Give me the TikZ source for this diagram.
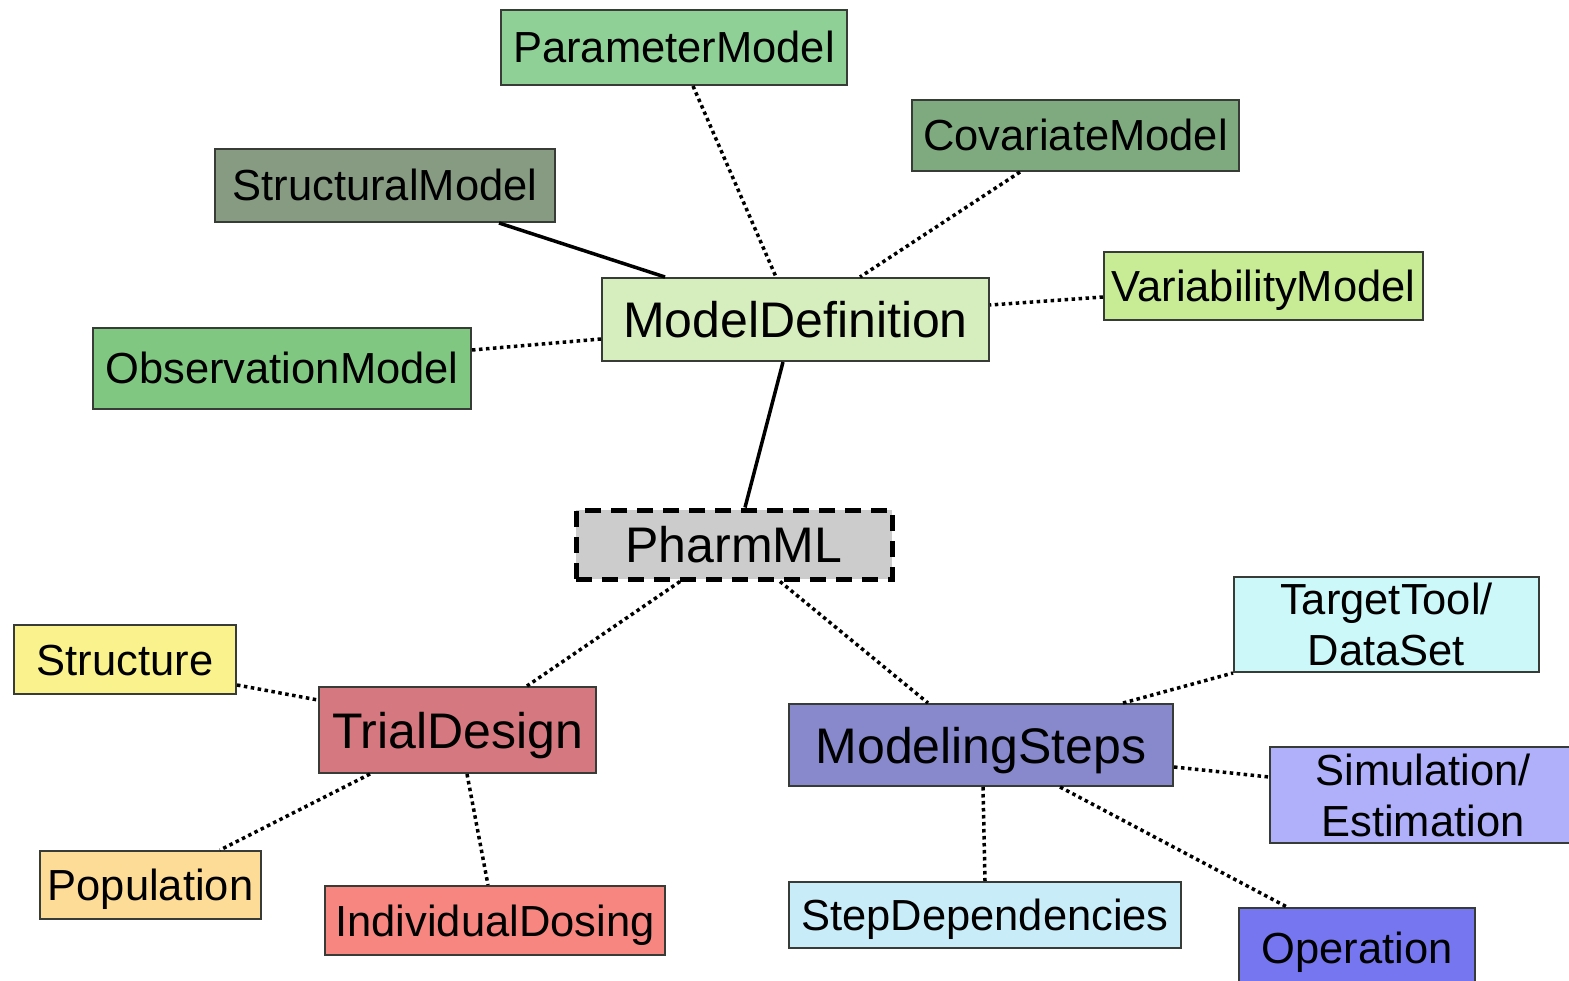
\documentclass[tikz,border=0pt]{standalone}
\usepackage{fontspec}
\setmainfont{Liberation Sans}
\usetikzlibrary{calc}

\definecolor{boxline}{RGB}{55,60,55}
\definecolor{cPar}{RGB}{142,208,150}
\definecolor{cCov}{RGB}{127,170,127}
\definecolor{cStr}{RGB}{134,155,130}
\definecolor{cVar}{RGB}{200,236,150}
\definecolor{cMdef}{RGB}{214,238,190}
\definecolor{cObs}{RGB}{128,200,130}
\definecolor{cPh}{RGB}{204,204,204}
\definecolor{cStrc}{RGB}{250,242,140}
\definecolor{cTrial}{RGB}{214,120,128}
\definecolor{cPop}{RGB}{252,220,150}
\definecolor{cInd}{RGB}{248,134,128}
\definecolor{cTT}{RGB}{204,248,250}
\definecolor{cMS}{RGB}{136,136,204}
\definecolor{cSim}{RGB}{176,176,250}
\definecolor{cSD}{RGB}{200,236,248}
\definecolor{cOp}{RGB}{118,118,240}

\begin{document}
\begin{tikzpicture}[x=1pt,y=-1pt,
  frame/.style={draw=boxline, line width=2pt, inner sep=0pt},
  box/.style={frame, font=\fontsize{43.5}{49}\selectfont, text height=31pt, text depth=0pt},
  bigbox/.style={box, font=\fontsize{50}{56}\selectfont, text height=36pt},
  twoline/.style={frame, align=center, font=\fontsize{43.5}{51}\selectfont},
  rootbox/.style={draw=black, line width=5pt, dash pattern=on 16pt off 10pt,
    inner sep=0pt, font=\fontsize{50}{56}\selectfont, text height=36pt, text depth=0pt},
  dotl/.style={line width=3.5pt, dash pattern=on 3.5pt off 3.5pt},
  solidl/.style={line width=3.5pt},
]
\useasboundingbox (0,0) rectangle (1569,981);
\fill[white] (0,0) rectangle (1569,981);

% model definition branch
\node[box, fill=cPar, minimum width=346pt, minimum height=75pt] (par) at (674,47.5) {ParameterModel};
\node[box, fill=cCov, minimum width=327pt, minimum height=71pt] (cov) at (1075.5,135.5) {CovariateModel};
\node[box, fill=cStr, minimum width=340pt, minimum height=73pt] (str) at (385,185.5) {StructuralModel};
\node[box, fill=cVar, minimum width=319pt, minimum height=68pt] (var) at (1263.5,286) {VariabilityModel};
\node[bigbox, fill=cMdef, minimum width=387pt, minimum height=83pt] (mdef) at (795.5,319.5) {ModelDefinition};
\node[box, fill=cObs, minimum width=378pt, minimum height=81pt] (obs) at (282,368.5) {ObservationModel};

% root
\node[rootbox, fill=cPh, minimum width=316pt, minimum height=69pt] (ph) at (734,544.5) {PharmML};

% trial design branch
\node[box, fill=cStrc, minimum width=222pt, minimum height=69pt] (strc) at (125,659.5) {Structure};
\node[bigbox, fill=cTrial, minimum width=277pt, minimum height=86pt] (trial) at (457.5,730) {TrialDesign};
\node[box, fill=cPop, minimum width=221pt, minimum height=68pt] (pop) at (150.5,885) {Population};
\node[box, fill=cInd, minimum width=340pt, minimum height=69pt] (ind) at (495,920.5) {IndividualDosing};

% modeling steps branch
\node[twoline, fill=cTT, minimum width=305pt, minimum height=95pt] (tt) at (1386.5,624.5) {TargetTool/\\DataSet};
\node[bigbox, fill=cMS, minimum width=384pt, minimum height=82pt] (ms) at (981,745) {ModelingSteps};
\node[twoline, fill=cSim, minimum width=306pt, minimum height=96pt] (sim) at (1423,795) {Simulation/\\Estimation};
\node[box, fill=cSD, minimum width=392pt, minimum height=66pt] (sd) at (985,915) {StepDependencies};
\node[box, fill=cOp, minimum width=236pt, minimum height=80pt] (op) at (1357,948) {Operation};

% connectors
\draw[solidl] ($(str.south)+(114,0)$) -- ($(mdef.north)+(-130.5,0)$);
\draw[dotl] ($(par.south)+(19,0)$) -- ($(mdef.north)+(-19.5,0)$);
\draw[dotl] ($(cov.south)+(-55.5,0)$) -- ($(mdef.north)+(64.5,0)$);
\draw[dotl] ($(var.west)+(0,11)$) -- ($(mdef.east)+(0,-14.5)$);
\draw[dotl] ($(obs.east)+(0,-18.5)$) -- ($(mdef.west)+(0,19.5)$);
\draw[solidl] ($(mdef.south)+(-12.5,0)$) -- ($(ph.north)+(11,0)$);
\draw[dotl] ($(ph.south)+(-54,0)$) -- ($(trial.north)+(69.5,0)$);
\draw[dotl] ($(ph.south)+(46,0)$) -- ($(ms.north)+(-53,0)$);
\draw[dotl] ($(strc.east)+(0,25.5)$) -- ($(trial.west)+(0,-30)$);
\draw[dotl] ($(trial.south)+(-87.5,0)$) -- ($(pop.north)+(69.5,0)$);
\draw[dotl] ($(trial.south)+(9.5,0)$) -- ($(ind.north)+(-7,0)$);
\draw[dotl] ($(ms.north)+(142,0)$) -- (tt.south west);
\draw[dotl] ($(ms.east)+(0,22)$) -- ($(sim.west)+(0,-18)$);
\draw[dotl] ($(ms.south)+(2,0)$) -- (sd.north);
\draw[dotl] ($(ms.south)+(79,0)$) -- ($(op.north)+(-70,0)$);
\end{tikzpicture}
\end{document}
